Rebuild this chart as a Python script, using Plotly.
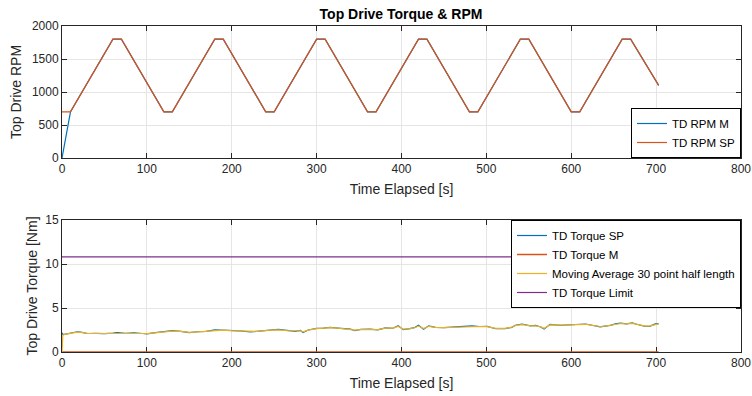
import plotly.graph_objects as go

# ---- RPM data ----
rpm_sp_t = [0, 10, 60, 70, 120, 130, 180, 190, 240, 250, 300, 310, 360, 370,
            420, 430, 480, 490, 540, 550, 600, 610, 660, 670, 703]
rpm_sp = [700, 700, 1800, 1800, 700, 700, 1800, 1800, 700, 700, 1800, 1800, 700, 700,
          1800, 1800, 700, 700, 1800, 1800, 700, 700, 1800, 1800, 1100]
rpm_m_t = [0, 10, 60, 70, 120, 130, 180, 190, 240, 250, 300, 310, 360, 370,
           420, 430, 480, 490, 540, 550, 600, 610, 660, 670, 703]
rpm_m = [0, 700, 1800, 1800, 700, 700, 1800, 1800, 700, 700, 1800, 1800, 700, 700,
         1800, 1800, 700, 700, 1800, 1800, 700, 700, 1800, 1800, 1100]

# ---- Torque data ----
tq_t = [0, 1, 3, 8, 15, 18, 22, 30, 40, 50, 60, 65, 75, 85, 95, 100, 110, 120, 130, 140,
        150, 160, 170, 180, 190, 200, 210, 222, 230, 245, 255, 265, 275, 281, 284, 290,
        300, 308, 316, 325, 333, 340, 345, 352, 363, 372, 381, 390, 396, 402, 410, 416,
        420, 426, 432, 440, 450, 460, 475, 483, 492, 501, 511, 522, 530, 534, 542, 552,
        558, 564, 568, 575, 587, 596, 605, 617, 623, 634, 640, 646, 652, 658, 665, 672,
        677, 682, 687, 693, 699, 703]
tq_sp = [2.2, 2.0, 2.0, 2.1, 2.2, 2.3, 2.25, 2.1, 2.12, 2.08, 2.15, 2.2, 2.13, 2.17, 2.1,
         2.05, 2.2, 2.35, 2.42, 2.35, 2.2, 2.3, 2.35, 2.52, 2.5, 2.42, 2.4, 2.27, 2.35, 2.5,
         2.56, 2.45, 2.35, 2.45, 2.2, 2.5, 2.69, 2.72, 2.8, 2.72, 2.65, 2.6, 2.42, 2.56, 2.6,
         2.52, 2.75, 2.7, 3.0, 2.54, 2.66, 2.8, 3.03, 2.58, 2.97, 2.8, 2.76, 2.82, 2.86, 2.97,
         2.9, 2.92, 2.64, 2.66, 2.8, 3.03, 3.18, 2.97, 3.02, 2.84, 2.6, 3.14, 3.03, 3.06, 3.1,
         3.18, 3.07, 2.86, 2.95, 3.03, 3.2, 3.28, 3.2, 3.3, 3.15, 3.07, 2.92, 2.95, 3.2, 3.22]
tq_ma = [0.0, 1.9, 2.0, 2.08, 2.18, 2.26, 2.22, 2.12, 2.1, 2.1, 2.14, 2.18, 2.14, 2.15, 2.1,
         2.08, 2.18, 2.32, 2.38, 2.34, 2.24, 2.28, 2.34, 2.48, 2.48, 2.42, 2.38, 2.3, 2.35,
         2.48, 2.52, 2.44, 2.38, 2.4, 2.28, 2.48, 2.66, 2.72, 2.76, 2.72, 2.65, 2.58, 2.48,
         2.54, 2.58, 2.55, 2.72, 2.72, 2.9, 2.6, 2.66, 2.78, 2.95, 2.66, 2.92, 2.8, 2.77, 2.8,
         2.86, 2.94, 2.9, 2.88, 2.68, 2.68, 2.82, 3.0, 3.12, 2.98, 2.98, 2.85, 2.7, 3.08, 3.03,
         3.05, 3.1, 3.15, 3.06, 2.9, 2.95, 3.03, 3.18, 3.24, 3.2, 3.26, 3.16, 3.06, 2.95, 2.97,
         3.15, 3.2]
tq_m_t = [0, 703]
tq_m = [0, 0]
tq_lim_t = [0, 703]
tq_lim = [10.8, 10.8]

BLUE = "#0072BD"
ORANGE = "#D95319"
YELLOW = "#EDB120"
PURPLE = "#7E2F8E"
FONT = "Liberation Sans, Arial, sans-serif"
AX = "#262626"

fig = go.Figure()
fig.add_trace(go.Scatter(x=rpm_m_t, y=rpm_m, mode="lines", name="TD RPM M",
                         line=dict(color=BLUE, width=1.2), xaxis="x", yaxis="y", legend="legend"))
fig.add_trace(go.Scatter(x=rpm_sp_t, y=rpm_sp, mode="lines", name="TD RPM SP",
                         line=dict(color=ORANGE, width=1.2), xaxis="x", yaxis="y", legend="legend"))

fig.add_trace(go.Scatter(x=tq_t, y=tq_sp, mode="lines", name="TD Torque SP",
                         line=dict(color=BLUE, width=1.2), xaxis="x2", yaxis="y2", legend="legend2"))
fig.add_trace(go.Scatter(x=tq_m_t, y=tq_m, mode="lines", name="TD Torque M",
                         line=dict(color=ORANGE, width=1.5), xaxis="x2", yaxis="y2", legend="legend2"))
fig.add_trace(go.Scatter(x=tq_t, y=tq_ma, mode="lines", name="Moving Average 30 point half length",
                         line=dict(color=YELLOW, width=1.2), xaxis="x2", yaxis="y2", legend="legend2"))
fig.add_trace(go.Scatter(x=tq_lim_t, y=tq_lim, mode="lines", name="TD Torque Limit",
                         line=dict(color=PURPLE, width=1.2), xaxis="x2", yaxis="y2", legend="legend2"))

xdom = [62 / 752, 741 / 752]
axcommon = dict(showline=True, linecolor=AX, linewidth=1, mirror="ticks", ticks="inside",
                ticklen=5, tickcolor=AX, showgrid=True, gridcolor="#e5e5e5", gridwidth=1,
                zeroline=False, tickfont=dict(family=FONT, size=12, color=AX),
                automargin=False, layer="below traces")

fig.update_layout(
    width=752, height=396,
    margin=dict(l=0, r=0, t=0, b=0),
    paper_bgcolor="white", plot_bgcolor="white",
    font=dict(family=FONT, color=AX),
    title=dict(text="<b>Top Drive Torque & RPM</b>", x=401 / 752, xanchor="center",
               y=1 - 14 / 396, yanchor="middle", font=dict(family=FONT, size=14, color="black")),
    xaxis=dict(domain=xdom, anchor="y", range=[0, 800], dtick=100,
               title=dict(text="Time Elapsed [s]", font=dict(size=14, family=FONT, color=AX), standoff=8),
               **axcommon),
    yaxis=dict(domain=[1 - 158 / 396, 1 - 26 / 396], anchor="x", range=[0, 2000], dtick=500,
               title=dict(text="Top Drive RPM", font=dict(size=14, family=FONT, color=AX), standoff=6),
               **axcommon),
    xaxis2=dict(domain=xdom, anchor="y2", range=[0, 800], dtick=100,
                title=dict(text="Time Elapsed [s]", font=dict(size=14, family=FONT, color=AX), standoff=8),
                **axcommon),
    yaxis2=dict(domain=[1 - 352 / 396, 1 - 220 / 396], anchor="x2", range=[0, 15], dtick=5,
                title=dict(text="Top Drive Torque [Nm]", font=dict(size=14, family=FONT, color=AX), standoff=4),
                **axcommon),
    legend=dict(x=741 / 752, xanchor="right", y=1 - 158 / 396, yanchor="bottom",
                bgcolor="white", bordercolor="black", borderwidth=1,
                font=dict(family=FONT, size=11.5, color="black"), itemwidth=30,
                tracegroupgap=0),
    legend2=dict(x=741 / 752, xanchor="right", y=1 - 220 / 396, yanchor="top",
                 bgcolor="white", bordercolor="black", borderwidth=1,
                 font=dict(family=FONT, size=11.5, color="black"), itemwidth=30,
                 tracegroupgap=0),
    showlegend=True,
)

fig.write_html("out.html")
